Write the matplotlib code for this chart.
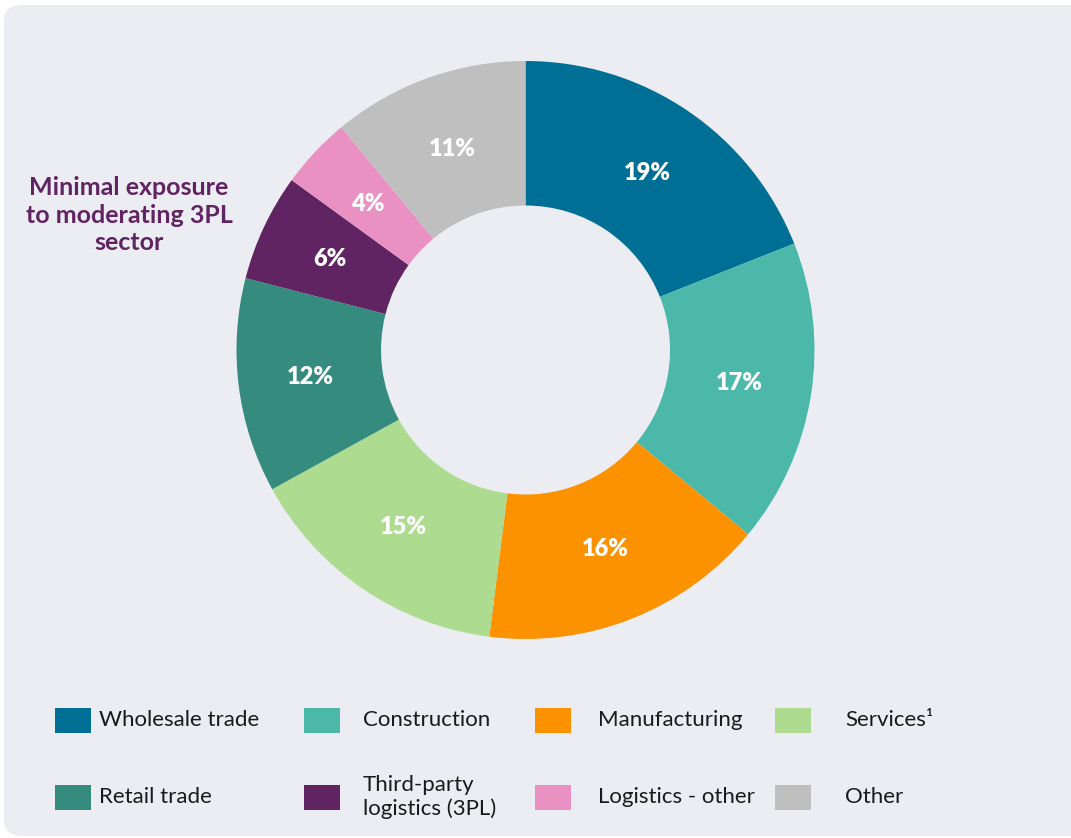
import matplotlib
matplotlib.use('Agg')
import matplotlib.pyplot as plt
from matplotlib.patches import FancyBboxPatch, Rectangle
import numpy as np

W, H = 1071, 838

sectors = ["Wholesale trade", "Construction", "Manufacturing", "Services\u00b9",
           "Retail trade", "Third-party\nlogistics (3PL)", "Logistics - other", "Other"]
shares = [19, 17, 16, 15, 12, 6, 4, 11]
colors = ["#006F95", "#4BB8A9", "#FD9200", "#ADDC90",
          "#358B7E", "#612462", "#EA91C4", "#BFBFBF"]

plt.rcParams['font.family'] = ['Lato', 'DejaVu Sans']

fig = plt.figure(figsize=(W / 100, H / 100), dpi=100)
fig.patch.set_facecolor("white")

# rounded background panel
panel = FancyBboxPatch((4 / W, 2 / H), (W + 20) / W, (H - 7) / H,
                       boxstyle="round,pad=0,rounding_size=0.018",
                       transform=fig.transFigure, facecolor="#ECEDF2",
                       edgecolor="none", zorder=-5)
fig.patches.append(panel)

# donut
cx, cy, r = 525.5, 350, 289
ax = fig.add_axes([(cx - r) / W, (H - cy - r) / H, 2 * r / W, 2 * r / H])
ax.set_facecolor("none")
ax.set_zorder(2)
wedges, texts = ax.pie(shares, colors=colors, startangle=90, counterclock=False,
                       radius=1, wedgeprops=dict(width=0.5, edgecolor="none"))
ax.set_xlim(-1, 1)
ax.set_ylim(-1, 1)
ax.set_aspect("equal")
ax.axis("off")

start = 90.0
for val in shares:
    ang = np.deg2rad(start - val * 3.6 / 2)
    ax.text(0.75 * np.cos(ang), 0.74 * np.sin(ang), f"{val}%", ha="center",
            va="center", color="white", fontsize=17, fontweight="heavy")
    start -= val * 3.6

# annotation
fig.text(129 / W, 1 - 215 / H, "Minimal exposure\nto moderating 3PL\nsector",
         ha="center", va="center", color="#612462", fontsize=18,
         fontweight="bold", linespacing=1.22)

# legend
col_patch_x = [55, 304, 535, 775]
col_text_x = [99, 363, 598, 845]
row_y = [720, 797]
for k in range(len(sectors)):
    row, col = divmod(k, 4)
    px = col_patch_x[col]
    py = row_y[row]
    fig.patches.append(Rectangle((px / W, (H - py - 12.5) / H), 36 / W, 25 / H,
                                 transform=fig.transFigure, facecolor=colors[k],
                                 edgecolor="none"))
    fig.text(col_text_x[col] / W, 1 - py / H, sectors[k], ha="left", va="center",
             fontsize=16, color="#1A1A1A", linespacing=1.15)

plt.savefig("out.png", dpi=100, facecolor=fig.get_facecolor())
